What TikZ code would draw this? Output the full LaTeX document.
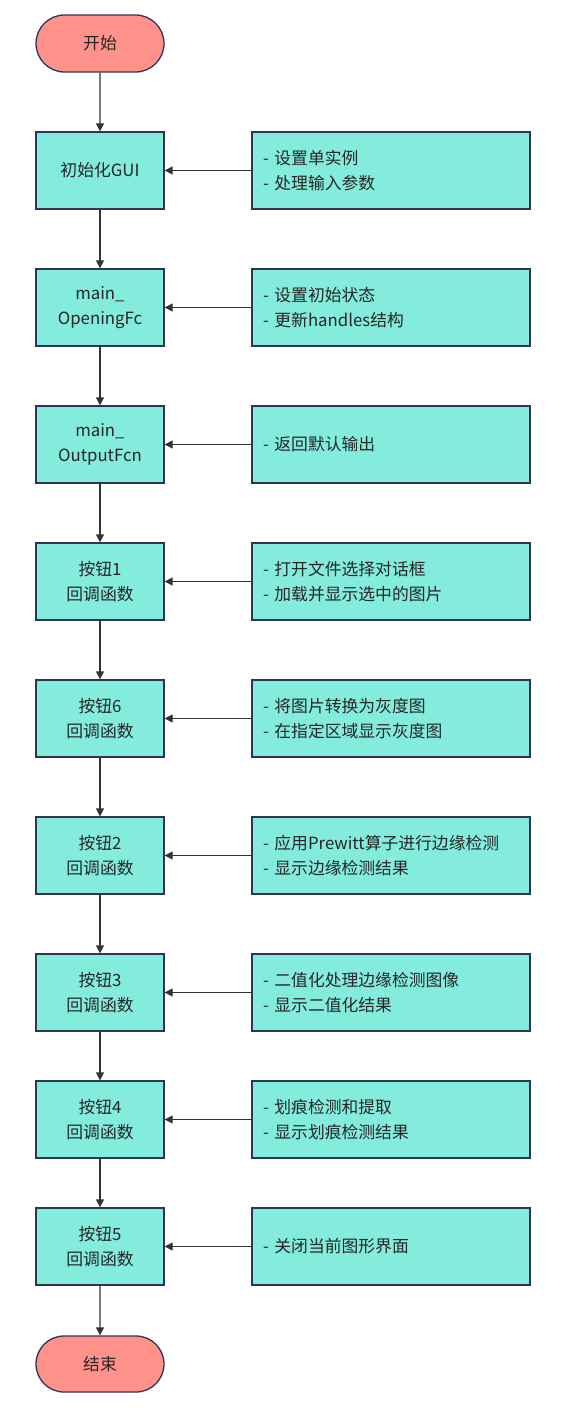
\documentclass[tikz,border=0pt]{standalone}
\usepackage{fontspec}
\setmainfont{Noto Sans CJK SC}
\usetikzlibrary{arrows.meta,shapes.misc}
\definecolor{termfill}{HTML}{FF928A}
\definecolor{procfill}{HTML}{84ECDC}
\definecolor{edgeline}{HTML}{2E3656}
\definecolor{arrowline}{HTML}{333333}
\tikzset{
  base/.style={draw=edgeline, line width=1.3pt, font=\fontsize{16.8}{25}\selectfont, text=black!85},
  term/.style={base, fill=termfill, rounded rectangle, minimum width=128pt, minimum height=57pt, inner sep=0pt},
  proc/.style={base, fill=procfill, rectangle, minimum width=128pt, minimum height=77pt, align=center, inner sep=0pt},
  note/.style={base, fill=procfill, rectangle, text width=256pt, inner xsep=11pt, inner ysep=0pt, minimum height=77pt, align=left},
  flow/.style={draw=arrowline, line width=1.3pt, -{Triangle[length=8pt,width=8pt]}}
}
\begin{document}
\begin{tikzpicture}[x=1pt,y=-1pt]
\useasboundingbox (0,0) rectangle (561,1420);
\node[term] (start) at (100,43.5) {开始};
\node[proc] (p1) at (100,170.5) {初始化GUI};
\node[proc] (p2) at (100,307.5) {main\_\\OpeningFc};
\node[proc] (p3) at (100,444.5) {main\_\\OutputFcn};
\node[proc] (p4) at (100,581.5) {按钮1\\回调函数};
\node[proc] (p5) at (100,718.5) {按钮6\\回调函数};
\node[proc] (p6) at (100,855.5) {按钮2\\回调函数};
\node[proc] (p7) at (100,992.5) {按钮3\\回调函数};
\node[proc] (p8) at (100,1119.5) {按钮4\\回调函数};
\node[proc] (p9) at (100,1246.5) {按钮5\\回调函数};
\node[term, minimum height=56pt] (end) at (100,1364) {结束};

\node[note] (n1) at (391,170.5) {- 设置单实例\\- 处理输入参数};
\node[note] (n2) at (391,307.5) {- 设置初始状态\\- 更新handles结构};
\node[note] (n3) at (391,444.5) {- 返回默认输出};
\node[note] (n4) at (391,581.5) {- 打开文件选择对话框\\- 加载并显示选中的图片};
\node[note] (n5) at (391,718.5) {- 将图片转换为灰度图\\- 在指定区域显示灰度图};
\node[note] (n6) at (391,855.5) {- 应用Prewitt算子进行边缘检测\\- 显示边缘检测结果};
\node[note] (n7) at (391,992.5) {- 二值化处理边缘检测图像\\- 显示二值化结果};
\node[note] (n8) at (391,1119.5) {- 划痕检测和提取\\- 显示划痕检测结果};
\node[note] (n9) at (391,1246.5) {- 关闭当前图形界面};

\draw[flow] (start) -- (p1);
\draw[flow] (p1) -- (p2);
\draw[flow] (p2) -- (p3);
\draw[flow] (p3) -- (p4);
\draw[flow] (p4) -- (p5);
\draw[flow] (p5) -- (p6);
\draw[flow] (p6) -- (p7);
\draw[flow] (p7) -- (p8);
\draw[flow] (p8) -- (p9);
\draw[flow] (p9) -- (end);
\foreach \i in {1,...,9} {\draw[flow] (n\i) -- (p\i);}
\end{tikzpicture}
\end{document}
